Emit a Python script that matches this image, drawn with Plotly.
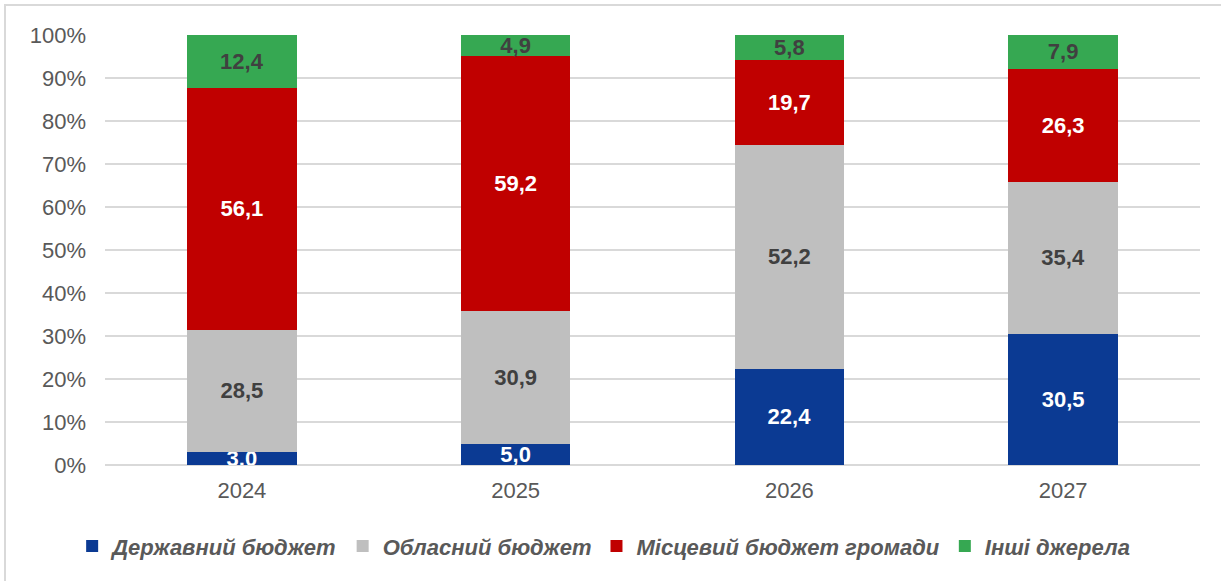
import plotly.graph_objects as go

years = ["2024", "2025", "2026", "2027"]
series_names = ["Державний бюджет", "Обласний бюджет", "Місцевий бюджет громади", "Інші джерела"]
state_budget = [3.0, 5.0, 22.4, 30.5]
oblast_budget = [28.5, 30.9, 52.2, 35.4]
local_budget = [56.1, 59.2, 19.7, 26.3]
other_sources = [12.4, 4.9, 5.8, 7.9]
y_ticks = [0, 10, 20, 30, 40, 50, 60, 70, 80, 90, 100]
y_tick_labels = ["0%", "10%", "20%", "30%", "40%", "50%", "60%", "70%", "80%", "90%", "100%"]

series = [state_budget, oblast_budget, local_budget, other_sources]
colors = ["#0b3a93", "#bfbfbf", "#c00000", "#36a852"]
text_colors = ["#ffffff", "#404040", "#ffffff", "#404040"]

FONT = "Liberation Sans, Arial, sans-serif"

fig = go.Figure()
for name, vals, col, tcol in zip(series_names, series, colors, text_colors):
    fig.add_trace(go.Bar(
        x=years, y=vals, name=name,
        marker=dict(color=col, line=dict(width=0)),
        text=[f"{v:.1f}".replace(".", ",") for v in vals],
        textposition="inside", insidetextanchor="middle", textangle=0,
        constraintext="none",
        textfont=dict(family=FONT, size=22, color=tcol, weight="bold"),
        hoverinfo="skip",
    ))

fig.update_layout(
    barmode="stack", barnorm="percent", bargap=0.6,
    width=1221, height=581,
    margin=dict(l=105, r=21, t=35, b=116),
    paper_bgcolor="white", plot_bgcolor="white",
    font=dict(family=FONT, color="#595959"),
    showlegend=True,
    legend=dict(
        orientation="h", x=-0.03, xanchor="left", y=-0.14, yanchor="top",
        font=dict(family=FONT, size=22, color="#595959", weight="bold", style="italic"),
        traceorder="normal", itemclick=False, itemdoubleclick=False,
        itemwidth=30, tracegroupgap=0,
    ),
    xaxis=dict(
        tickfont=dict(family=FONT, size=22, color="#595959"),
        showgrid=False, showline=False, ticks="", ticklabelstandoff=10,
    ),
    yaxis=dict(
        range=[0, 100], tickvals=y_ticks, ticktext=y_tick_labels,
        tickfont=dict(family=FONT, size=22, color="#595959"),
        showgrid=True, gridcolor="#d9d9d9", gridwidth=1.5,
        zeroline=True, zerolinecolor="#d9d9d9", zerolinewidth=1.5,
        showline=False, ticks="", ticklabelstandoff=18,
    ),
    shapes=[dict(
        type="rect", xref="paper", yref="paper",
        x0=(5 - 105) / 1095, x1=(1230 - 105) / 1095,
        y0=-0.5, y1=1 + 30 / 430,
        line=dict(color="#d9d9d9", width=2), fillcolor="rgba(0,0,0,0)", layer="below",
    )],
)

fig.write_html("out.html", config={"displayModeBar": False},
               post_script="document.body.style.margin='0';")
